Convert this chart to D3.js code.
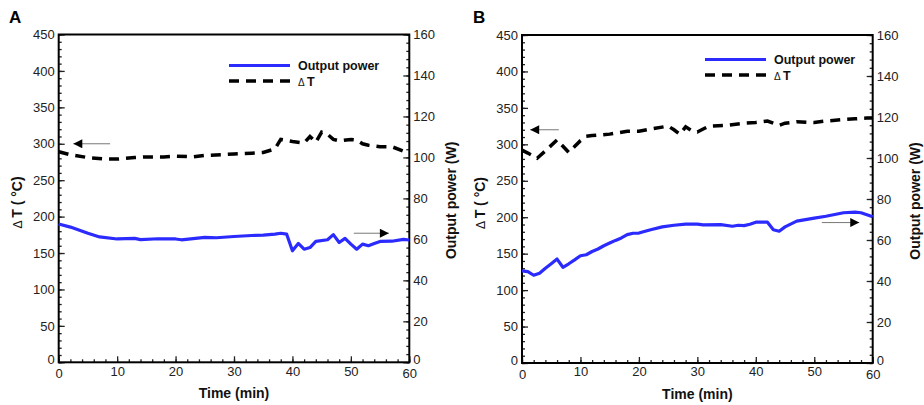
<!DOCTYPE html>
<html>
<head>
<meta charset="utf-8">
<script src="https://cdn.jsdelivr.net/npm/d3@7"></script>
<style>
  body { margin: 0; background: #fff; }
  svg { font-family: "Liberation Sans", Arial, sans-serif; }
  .tick text { font-size: 13px; fill: #222; }
  .axis-label { font-weight: bold; font-size: 14px; fill: #111; }
</style>
</head>
<body>
<div id="chart"></div>
<script>
// Panel A data
const timeA  = [0, 2, 5, 7, 10, 13, 14, 17, 20, 21, 23, 25, 27, 30, 33, 35, 37, 38, 39, 40, 41, 42, 43, 44, 46, 47, 48, 49, 50, 51, 52, 53, 54, 55, 57, 59, 60];
const powerA = [67.5, 66, 63, 61.2, 60.2, 60.5, 59.9, 60.3, 60.2, 59.8, 60.4, 61, 60.8, 61.4, 61.9, 62.1, 62.6, 63, 62.6, 54.4, 58, 55.2, 56, 59, 59.8, 62.3, 58.5, 60.5, 57.7, 55.2, 57.7, 56.9, 58, 59, 59.1, 60, 59.7];
const dtTimeA = [0, 2, 5, 8, 10, 13, 15, 18, 20, 23, 25, 28, 30, 33, 35, 37, 38, 40, 42, 43, 44, 45, 46, 47, 48, 50, 51, 52, 53, 55, 57, 59, 60];
const deltaTA = [289, 285, 281, 279, 279, 281, 282, 282, 283, 282, 284, 285, 286, 287, 288, 293, 306, 303, 301, 310, 302, 316, 313, 306, 304, 306, 305, 300, 298, 296, 296, 290, 287];

// Panel B data
const timeB  = [0, 1, 2, 3, 4, 5, 6, 7, 8, 9, 10, 11, 12, 13, 14, 15, 16, 17, 18, 19, 20, 22, 24, 26, 28, 30, 31, 34, 36, 37, 38, 39, 40, 42, 43, 44, 45, 47, 50, 52, 55, 57, 58, 60];
const powerB = [44.9, 44.6, 42.8, 43.8, 46.2, 48.4, 50.7, 46.7, 48.4, 50.3, 52.3, 52.8, 54.4, 55.6, 57.2, 58.5, 59.8, 61, 62.6, 63.3, 63.4, 65, 66.4, 67.2, 67.7, 67.7, 67.4, 67.5, 66.7, 67.2, 67, 67.7, 68.7, 68.7, 65, 64.3, 66.4, 69.2, 70.7, 71.6, 73.3, 73.6, 73.3, 71.3];
const dtTimeB = [0, 1, 2.6, 4, 6, 8, 10, 11, 12, 15, 18, 20, 22, 25, 26, 27, 28, 29, 30, 31, 32, 35, 38, 40, 42, 43, 44, 45, 47, 50, 52, 55, 57, 59, 60];
const deltaTB = [292, 288, 281, 291, 306, 289, 305, 311, 312, 314, 318, 318, 321, 325, 320, 314, 324, 319, 317, 321, 325, 326, 329, 330, 332, 329, 326, 329, 331, 330, 332, 334, 335, 336, 336];

// arrows: [time, value] tail -> head
const arrowsA = { left: [[8.8, 300], [2.5, 300]], right: [[50.5, 63], [56.5, 63]] };
const arrowsB = { left: [[6.3, 320], [1.4, 320]], right: [[51.3, 68.5], [57.7, 68.5]] };

const xTicks = [0, 10, 20, 30, 40, 50, 60];
const leftTicks = [0, 50, 100, 150, 200, 250, 300, 350, 400, 450];
const rightTicks = [0, 20, 40, 60, 80, 100, 120, 140, 160];

const BLUE = "#2b2bff";

const svg = d3.select("#chart").append("svg")
  .attr("width", 924).attr("height", 405);

const defs = svg.append("defs");
defs.append("marker")
  .attr("id", "head")
  .attr("viewBox", "0 0 10 10")
  .attr("refX", 10).attr("refY", 5)
  .attr("markerUnits", "userSpaceOnUse")
  .attr("markerWidth", 12).attr("markerHeight", 9)
  .attr("orient", "auto")
  .append("path").attr("d", "M0,0 L10,5 L0,10 Z").attr("fill", "#000");

function panel(opts) {
  const { left, right, top, bottom, letter, t1, p, t2, dt, arrows, legend } = opts;
  const g = svg.append("g");

  const x = d3.scaleLinear().domain([0, 60]).range([left, right]);
  const yL = d3.scaleLinear().domain([0, 450]).range([bottom, top]);
  const yR = d3.scaleLinear().domain([0, 160]).range([bottom, top]);

  // minor ticks
  g.append("g").attr("transform", `translate(0,${bottom})`)
    .call(d3.axisBottom(x).tickValues(d3.range(0, 61, 2)).tickSize(-3).tickFormat(""));
  g.append("g").attr("transform", `translate(${left},0)`)
    .call(d3.axisLeft(yL).tickValues(d3.range(0, 451, 10)).tickSize(-3).tickFormat(""));
  g.append("g").attr("transform", `translate(${right},0)`)
    .call(d3.axisRight(yR).tickValues(d3.range(0, 161, 4)).tickSize(-3).tickFormat(""));

  // major ticks
  const xa = g.append("g").attr("transform", `translate(0,${bottom})`)
    .call(d3.axisBottom(x).tickValues(xTicks).tickSize(-6).tickPadding(4));
  const la = g.append("g").attr("transform", `translate(${left},0)`)
    .call(d3.axisLeft(yL).tickValues(leftTicks).tickSize(-6).tickPadding(4));
  const ra = g.append("g").attr("transform", `translate(${right},0)`)
    .call(d3.axisRight(yR).tickValues(rightTicks).tickSize(-6).tickPadding(4));

  g.selectAll(".domain").remove();
  g.selectAll(".tick line").attr("stroke", "#222").attr("stroke-width", 1.3);
  // bottom 0 labels sit slightly offset like the original
  la.selectAll(".tick text").filter(d => d === 0).attr("dy", "0.1em");
  ra.selectAll(".tick text").filter(d => d === 0).attr("dy", "0.1em");
  xa.selectAll(".tick text").filter(d => d === 0 || d === 60).attr("dy", "0.9em");

  // frame
  g.append("rect")
    .attr("x", left).attr("y", top)
    .attr("width", right - left).attr("height", bottom - top)
    .attr("fill", "none").attr("stroke", "#000").attr("stroke-width", 2);

  // data lines
  const dtLine = d3.line().x(d => x(d[0])).y(d => yL(d[1]));
  const pLine = d3.line().x(d => x(d[0])).y(d => yR(d[1]));

  g.append("path").datum(t2.map((t, i) => [t, dt[i]]))
    .attr("d", dtLine).attr("fill", "none")
    .attr("stroke", "#000").attr("stroke-width", 3.5)
    .attr("stroke-dasharray", "10,7");
  g.append("path").datum(t1.map((t, i) => [t, p[i]]))
    .attr("d", pLine).attr("fill", "none")
    .attr("stroke", BLUE).attr("stroke-width", 3.2)
    .attr("stroke-linejoin", "round");

  // arrows
  g.append("line")
    .attr("x1", x(arrows.left[0][0])).attr("y1", yL(arrows.left[0][1]))
    .attr("x2", x(arrows.left[1][0])).attr("y2", yL(arrows.left[1][1]))
    .attr("stroke", "#555").attr("stroke-width", 0.8).attr("marker-end", "url(#head)");
  g.append("line")
    .attr("x1", x(arrows.right[0][0])).attr("y1", yR(arrows.right[0][1]))
    .attr("x2", x(arrows.right[1][0])).attr("y2", yR(arrows.right[1][1]))
    .attr("stroke", "#555").attr("stroke-width", 0.8).attr("marker-end", "url(#head)");

  // legend
  const lg = g.append("g").attr("transform", `translate(${legend[0]},${legend[1]})`);
  lg.append("line").attr("x1", 0).attr("x2", 61).attr("y1", 0).attr("y2", 0)
    .attr("stroke", BLUE).attr("stroke-width", 3.2);
  lg.append("text").attr("x", 69).attr("y", 4.5)
    .attr("font-size", 12.5).attr("font-weight", "bold").attr("fill", "#111")
    .text("Output power");
  lg.append("line").attr("x1", 0).attr("x2", 61).attr("y1", 15.5).attr("y2", 15.5)
    .attr("stroke", "#000").attr("stroke-width", 3.5).attr("stroke-dasharray", "10,7");
  const lt = lg.append("text").attr("x", 69).attr("y", 20)
    .attr("font-size", 12.5).attr("fill", "#111");
  lt.append("tspan").attr("font-size", 10).text("Δ ");
  lt.append("tspan").attr("font-weight", "bold").text("T");

  // axis titles
  g.append("text").attr("class", "axis-label")
    .attr("x", (left + right) / 2).attr("y", bottom + 36)
    .attr("text-anchor", "middle").text("Time (min)");

  const yt = g.append("text").attr("class", "axis-label")
    .attr("transform", `translate(${left - 37},${(top + bottom) / 2 + 4}) rotate(-90)`)
    .attr("text-anchor", "middle");
  yt.append("tspan").attr("font-weight", "normal").attr("font-size", 12).text("Δ ");
  yt.append("tspan").text("T ( °C)");

  g.append("text").attr("class", "axis-label")
    .attr("transform", `translate(${right + 47},${(top + bottom) / 2 + 2}) rotate(-90)`)
    .attr("text-anchor", "middle").text("Output power (W)");

  // panel letter
  g.append("text").attr("x", letter[0]).attr("y", letter[1])
    .attr("font-size", 17).attr("font-weight", "bold").text(letter[2]);
}

panel({ left: 58.7, right: 409.3, top: 34.5, bottom: 362.3, letter: [9, 23, "A"],
  t1: timeA, p: powerA, t2: dtTimeA, dt: deltaTA, arrows: arrowsA, legend: [229, 65.5] });
panel({ left: 522, right: 872.7, top: 35, bottom: 363, letter: [473, 23, "B"],
  t1: timeB, p: powerB, t2: dtTimeB, dt: deltaTB, arrows: arrowsB, legend: [705, 59.5] });
</script>
</body>
</html>
